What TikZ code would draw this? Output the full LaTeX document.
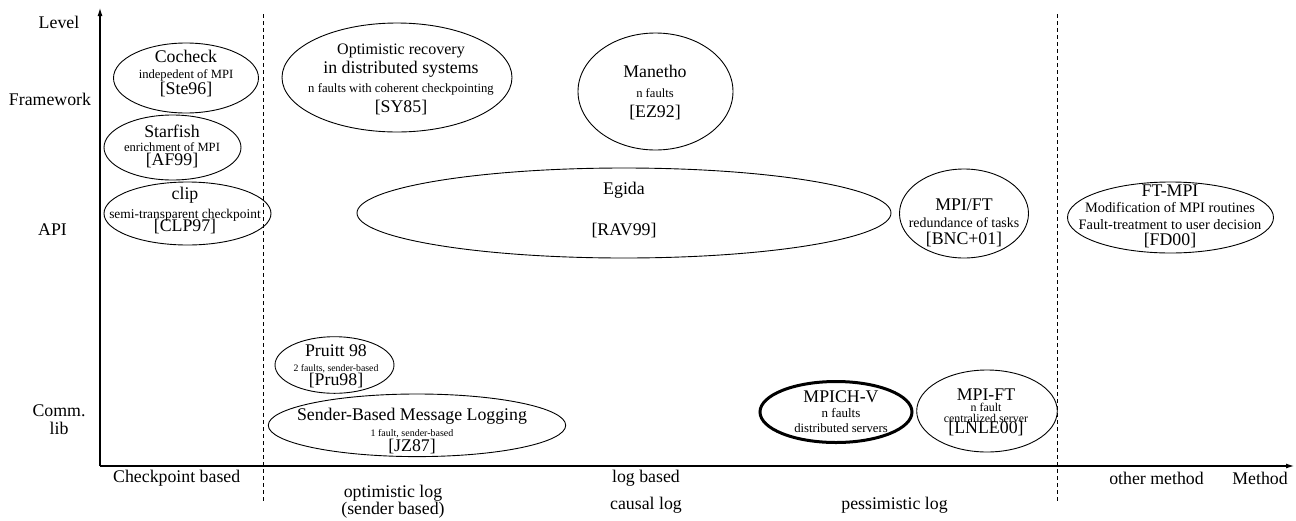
\documentclass[tikz,border=0pt]{standalone}
\usepackage{fontspec}
\setmainfont{Liberation Serif}
\usetikzlibrary{arrows.meta}
\newcommand{\fsz}[1]{\fontsize{#1}{#1}\selectfont}
\newcommand{\lblfont}[1]{\fontsize{17.8}{#1}\selectfont\lineskiplimit=-30pt\relax}

\tikzset{
  lbl/.style={align=center, inner sep=0pt, font=\lblfont{#1}},
  lbl/.default=17,
  oval/.style={line width=0.9pt},
  axis/.style={line width=1.1pt, -{Latex[length=8pt,width=5pt]}},
  divider/.style={line width=0.8pt, dash pattern=on 4pt off 3pt}
}

\begin{document}
\begin{tikzpicture}[x=1pt,y=-1pt]
  \useasboundingbox (0,0) rectangle (1296,520);

  % axes
  \draw[axis] (100,466) -- (100,8);
  \draw[axis] (100,466) -- (1294,466);

  \foreach \x in {263,1057.5}
    \draw[divider] (\x,14) -- (\x,502);

  % levels
  \node[lbl] (level) at (59,22.7) {Level};
  \node[lbl] (framework) at (50,99) {Framework};
  \node[lbl] (api) at (52.5,230) {API};
  \node[lbl=17.6] (commlib) at (59,419.5) {Comm.\\lib};

  % methods
  \foreach \x/\y/\txt [count=\i] in {176.7/478.3/{Checkpoint based},
      646/478.3/{log based}, 646/505.7/{causal log},
      894.5/505.7/{pessimistic log}, 1156.5/478.3/{other method},
      1260/478.3/Method}
    \node[lbl] (meth\i) at (\x,\y) {\txt};
  \node[lbl] (optlog) at (393,501.5) {optimistic log\\(sender based)};

  % Framework
  \draw[oval] (186,78) ellipse [x radius=72.5, y radius=35];
  \node[lbl=16] (cocheck) at (186,74)
    {Cocheck\\{\fsz{12.6}indepedent of MPI}\\{[Ste96]}};

  \draw[oval] (397,77.5) ellipse [x radius=115, y radius=54.5];
  \node[lbl=19.3] (optrec) at (401,79)
    {{\fsz{16}Optimistic recovery}\\in distributed systems\\
     {\fsz{12.7}n faults with coherent checkpointing}\\{[SY85]}};

  \draw[oval] (655.5,91.5) ellipse [x radius=77.5, y radius=58.5];
  \node[lbl=20] (manetho) at (655,93)
    {Manetho\\{\fsz{12.6}n faults}\\{[EZ92]}};

  \draw[oval] (172.5,147.5) ellipse [x radius=68.5, y radius=32.5];
  \node[lbl=14] (starfish) at (172,146)
    {Starfish\\{\fsz{12.6}enrichment of MPI}\\{[AF99]}};

  % API
  \draw[oval] (187.5,213.5) ellipse [x radius=83.5, y radius=31.5];
  \node[lbl=13.5] (clipapi) at (185,211)
    {clip\\[5pt]{\fsz{13.4}semi-transparent checkpoint}\\{[CLP97]}};

  \draw[oval] (624,213) ellipse [x radius=267, y radius=45];
  \node[lbl] (egida) at (624,210.5) {Egida\\[24pt]{[RAV99]}};

  \draw[oval] (964,213.5) ellipse [x radius=64.5, y radius=44.5];
  \node[lbl=17.2] (mpifta) at (964,223)
    {MPI/FT\\{\fsz{13.9}redundance of tasks}\\{[BNC+01]}};

  \draw[oval] (1170.5,217.5) ellipse [x radius=103, y radius=35.5];
  \node[lbl=16.3] (ftmpi) at (1170,216.5)
    {FT-MPI\\{\fsz{14.4}Modification of MPI routines}\\
     {\fsz{14.4}Fault-treatment to user decision}\\{[FD00]}};

  % Comm. lib
  \draw[oval] (334.5,365) ellipse [x radius=59.5, y radius=28.3];
  \node[lbl=14.5] (pruitt) at (336,366.5)
    {Pruitt 98\\{\fsz{9.8}2 faults, sender-based}\\{[Pru98]}};

  \draw[oval] (417,425.3) ellipse [x radius=148.7, y radius=31.3];
  \node[lbl=15.5] (sbml) at (412,431.5)
    {Sender-Based Message Logging\\{\fsz{10}1 fault, sender-based}\\{[JZ87]}};

  \draw[oval, line width=3pt] (836,412) ellipse [x radius=76, y radius=30.5];
  \node[lbl=15] (mpichv) at (841,412)
    {MPICH-V\\{\fsz{13}n faults}\\{\fsz{12.7}distributed servers}};

  \draw[oval] (987,411) ellipse [x radius=70.3, y radius=41];
  \node[lbl=11] (mpiftb) at (986,412)
    {MPI-FT\\{\fsz{11.9}n fault}\\{\fsz{11.9}centralized server}\\{[LNLE00]}};
\end{tikzpicture}
\end{document}
